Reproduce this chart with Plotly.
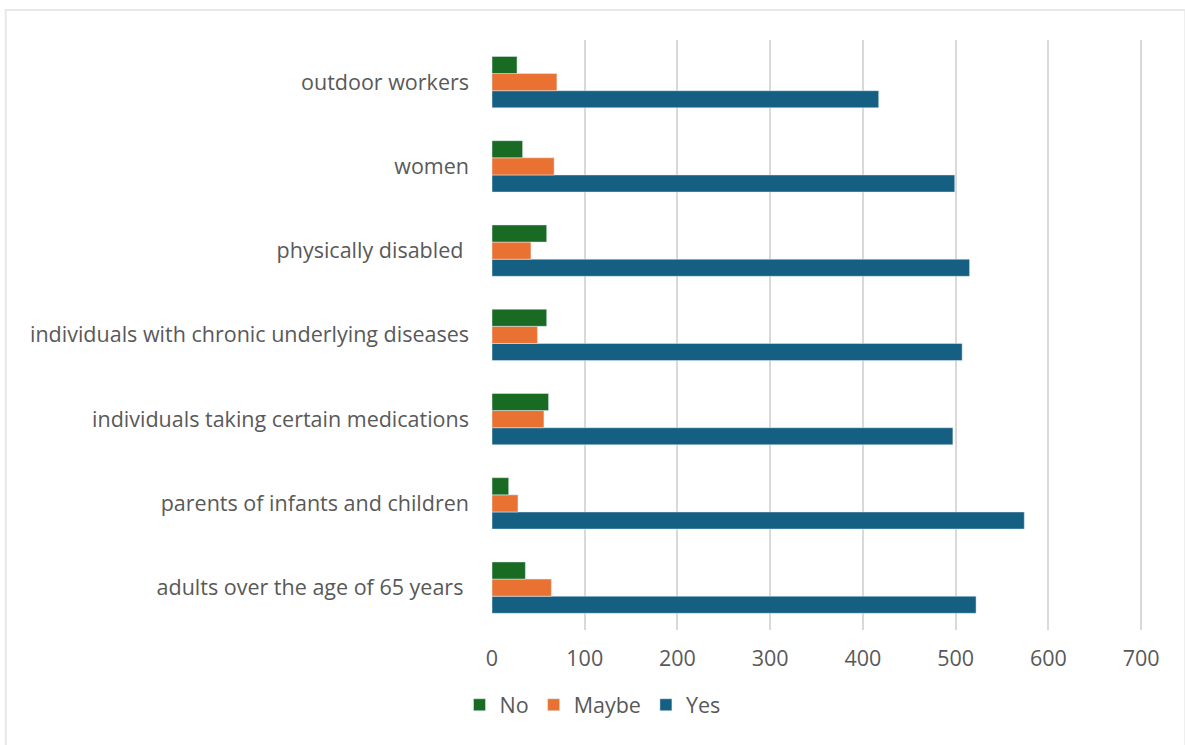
import plotly.graph_objects as go

# Groups listed bottom-to-top as drawn on the category axis
groups = [
    "adults over the age of 65 years ",
    "parents of infants and children",
    "individuals taking certain medications",
    "individuals with chronic underlying diseases",
    "physically disabled ",
    "women",
    "outdoor workers",
]

no_counts = [36, 18, 61, 59, 59, 33, 27]
maybe_counts = [64, 28, 56, 49, 42, 67, 70]
yes_counts = [522, 574, 497, 507, 515, 499, 417]

x_ticks = [0, 100, 200, 300, 400, 500, 600, 700]

font_family = "Open Sans, Liberation Sans, Arial, sans-serif"
text_color = "#595959"
font_size = 21.5

fig = go.Figure()
# Added Yes first so it sits lowest inside each group
fig.add_trace(go.Bar(name="Yes", y=groups, x=yes_counts, orientation="h",
                     marker=dict(color="#156082")))
fig.add_trace(go.Bar(name="Maybe", y=groups, x=maybe_counts, orientation="h",
                     marker=dict(color="#E97132")))
fig.add_trace(go.Bar(name="No", y=groups, x=no_counts, orientation="h",
                     marker=dict(color="#196B24")))

fig.update_layout(
    width=1185,
    height=745,
    barmode="group",
    bargap=0.39,
    bargroupgap=0,
    paper_bgcolor="white",
    plot_bgcolor="white",
    margin=dict(l=492, r=42, t=40, b=114),
    font=dict(family=font_family, size=font_size, color=text_color),
    showlegend=True,
    legend=dict(
        orientation="h",
        traceorder="reversed",
        xref="container", yref="container",
        x=0.5, y=0.054,
        xanchor="center", yanchor="middle",
        font=dict(size=font_size, color=text_color),
        itemwidth=30,
    ),
    xaxis=dict(
        range=[0, 702],
        tickvals=x_ticks,
        ticktext=[str(v) for v in x_ticks],
        showgrid=True,
        gridcolor="#d9d9d9",
        gridwidth=1.5,
        zeroline=False,
        showline=False,
        ticks="",
        ticklabelstandoff=14,
        fixedrange=True,
    ),
    yaxis=dict(
        type="category",
        categoryorder="array",
        categoryarray=groups,
        showgrid=False,
        zeroline=False,
        showline=False,
        ticks="",
        ticklabelstandoff=22,
        fixedrange=True,
    ),
    shapes=[
        dict(type="rect", xref="paper", yref="paper",
             x0=-0.747, x1=1.065, y0=-0.25, y1=1.051,
             line=dict(color="#e8e8e8", width=2), fillcolor="rgba(0,0,0,0)",
             layer="below"),
    ],
)

fig.write_html("out.html")
